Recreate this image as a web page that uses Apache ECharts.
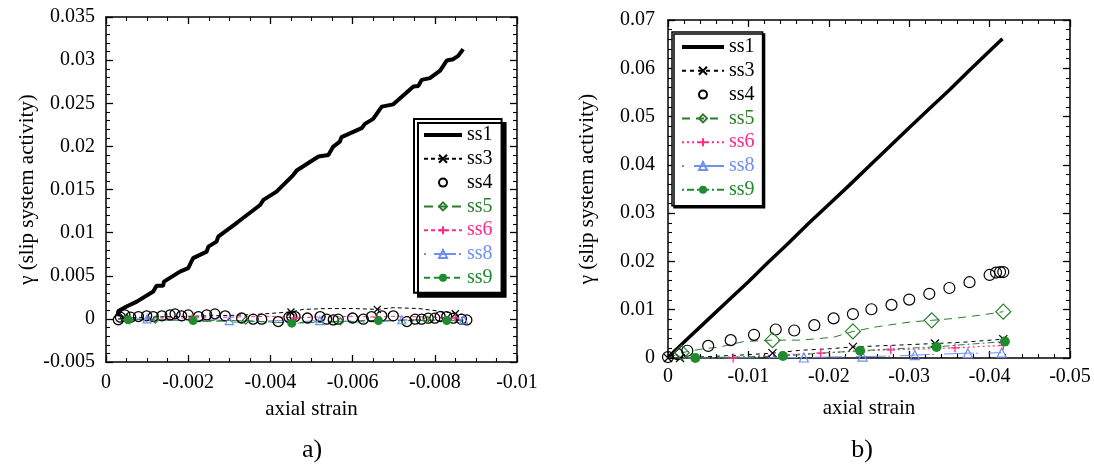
<!DOCTYPE html>
<html>
<head>
<meta charset="utf-8">
<script src="https://cdn.jsdelivr.net/npm/echarts@6/dist/echarts.min.js"></script>
<style>
  html, body { margin: 0; padding: 0; background: #fff; }
  #chart { width: 1094px; height: 466px; }
</style>
</head>
<body>
<div id="chart"></div>
<script>
// Slip system activity (gamma) against axial strain, two loading cases a) and b).
// Each curve: "path" points are drawn as line only, "marks" points carry a symbol.

// ---------- panel a) ----------
const aTicksX = { min: -0.01, interval: 0.002 };
const aTicksY = { min: -0.005, max: 0.035, interval: 0.005 };

const a_ss1 = [[-0.00028,0.0003],[-0.0003,0.0009],[-0.0005,0.00143],[-0.00075,0.0020],[-0.00115,0.00317],
  [-0.00123,0.00383],[-0.00139,0.00383],[-0.00141,0.00432],[-0.0018,0.00548],[-0.0020,0.00588],
  [-0.00212,0.00704],[-0.00245,0.0078],[-0.00249,0.00838],[-0.00269,0.00896],[-0.00273,0.00954],
  [-0.0032,0.0112],[-0.00375,0.0132],[-0.00383,0.0138],[-0.00415,0.01476],[-0.00456,0.0167],
  [-0.00464,0.0172],[-0.00517,0.01882],[-0.00541,0.01901],[-0.00553,0.01998],[-0.00569,0.02056],
  [-0.00573,0.02107],[-0.00622,0.02211],[-0.0063,0.02261],[-0.0065,0.02319],[-0.00671,0.02461],
  [-0.00699,0.02487],[-0.00748,0.02693],[-0.0076,0.02701],[-0.00768,0.02771],[-0.00788,0.02791],
  [-0.00813,0.02879],[-0.00829,0.02995],[-0.00845,0.03011],[-0.00857,0.03049],[-0.00869,0.03127]];

const a_ss3_path = [[-0.0003,0],[-0.001,0.0002],[-0.002,0.0003],[-0.003,0.0004],[-0.0036,0.0005],[-0.0042,0.0007],
  [-0.0048,0.0011],[-0.0054,0.0012],[-0.006,0.0012],[-0.007,0.0013],[-0.0076,0.0012],[-0.0081,0.0009],[-0.0087,0.0005]];
const a_ss3_marks = [[-0.00045,0.0001],[-0.0045,0.0008],[-0.0066,0.0011],[-0.0085,0.0006]];

const a_ss4_marks = [[-0.0003,-0.0001],[-0.00035,0.0002],[-0.00046,0.00046],[-0.0006,0.0002],[-0.00079,0.00027],
  [-0.00099,0.00035],[-0.00115,0.00027],[-0.00136,0.00035],[-0.00156,0.00046],[-0.00168,0.00058],
  [-0.00184,0.00035],[-0.0020,0.00046],[-0.00225,0.00027],[-0.00245,0.00046],[-0.00265,0.00058],
  [-0.0029,0.00035],[-0.0033,0.0001],[-0.00358,-0.00003],[-0.00379,-0.00003],[-0.00419,-0.00031],
  [-0.00445,0.0002],[-0.00452,0.00027],[-0.0046,0.00027],[-0.0049,0.0001],[-0.00521,0.00027],
  [-0.00537,-0.00003],[-0.00553,-0.00012],[-0.00565,-0.00003],[-0.0060,0.0001],[-0.00626,-0.00003],
  [-0.00646,0.00027],[-0.00671,0.00035],[-0.00699,0.00035],[-0.00732,-0.00031],[-0.00752,-0.00003],
  [-0.00768,-0.00003],[-0.00784,0.00008],[-0.008,0.00008],[-0.00813,0.00027],[-0.00829,0.00027],
  [-0.00845,0.00008],[-0.00865,-0.00003],[-0.00878,-0.00012]];

const a_ss5_path = [[-0.0003,0],[-0.001,-0.0001],[-0.0018,-0.0002],[-0.0025,-0.0003],[-0.0032,-0.0002],[-0.004,-0.0004],
  [-0.0047,-0.0004],[-0.0055,-0.0003],[-0.0062,-0.0002],[-0.0068,-0.0002],[-0.0075,-0.0001],[-0.0082,-0.0002],[-0.0087,-0.0001]];
const a_ss5_marks = [[-0.0012,-0.0001],[-0.0034,-0.0002],[-0.0057,-0.0003],[-0.0078,-0.0001]];

const a_ss6_path = [[-0.0003,0],[-0.0012,0.0001],[-0.003,0.0002],[-0.004,0.0003],[-0.005,0.0002],[-0.006,0.0003],
  [-0.007,0.0003],[-0.008,0.0002],[-0.0087,0.0002]];
const a_ss6_marks = [[-0.0005,-0.0001],[-0.0021,0.0001],[-0.0046,0.0001],[-0.0066,0.0002],[-0.0085,0.0001]];

const a_ss8_path = [[-0.0003,0],[-0.0012,-0.0001],[-0.002,-0.0002],[-0.0026,-0.0001],[-0.0031,-0.0004],[-0.0036,-0.0003],
  [-0.0042,-0.0002],[-0.0048,-0.0003],[-0.0055,-0.0002],[-0.0062,-0.0004],[-0.0068,-0.0003],[-0.0074,-0.0002],[-0.0081,-0.0002]];
const a_ss8_marks = [[-0.001,0],[-0.003,-0.0002],[-0.0052,-0.0002],[-0.0072,-0.0001],[-0.0087,-0.0001]];

const a_ss9_path = [[-0.0003,0],[-0.0012,-0.0001],[-0.003,-0.0002],[-0.0038,-0.0003],[-0.0053,-0.0004],[-0.006,-0.0003],
  [-0.0074,-0.0002],[-0.0087,-0.0002]];
const a_ss9_marks = [[-0.00054,-0.0001],[-0.00212,-0.0002],[-0.00452,-0.0005],[-0.00663,-0.0002],[-0.00829,-0.0002]];

// ---------- panel b) ----------
const bTicksX = { min: -0.05, interval: 0.01 };
const bTicksY = { min: 0, max: 0.07, interval: 0.01 };

const b_ss1 = [[0,0],[-0.0004,0.0007],[-0.002,0.0033],[-0.005,0.0080],[-0.0075,0.0119],[-0.01,0.0158],
  [-0.0125,0.0199],[-0.015,0.0238],[-0.0175,0.0279],[-0.02,0.0318],[-0.0225,0.0357],[-0.025,0.0397],
  [-0.0275,0.0437],[-0.03,0.0477],[-0.0325,0.0516],[-0.035,0.0555],[-0.0375,0.0596],[-0.04,0.0636],
  [-0.0412,0.0655],[-0.0416,0.0661]];

const b_ss3_path = [[-0.005,0.0003],[-0.009,0.0006],[-0.0165,0.0016],[-0.02,0.0019],[-0.026,0.0025],[-0.029,0.0027],[-0.037,0.0033]];
const b_ss3_marks = [[0,0],[-0.0015,0],[-0.013,0.001],[-0.023,0.0023],[-0.0332,0.003],[-0.0417,0.0039]];

const b_ss4_marks = [[0,0.0002],[-0.0012,0.0008],[-0.0024,0.0015],[-0.005,0.0025],[-0.0078,0.0037],[-0.0107,0.0048],
  [-0.0134,0.0059],[-0.0157,0.0057],[-0.0182,0.0068],[-0.0206,0.0082],[-0.023,0.0091],[-0.0253,0.0101],
  [-0.0278,0.011],[-0.030,0.0121],[-0.0325,0.0133],[-0.035,0.0145],[-0.0375,0.0157],[-0.040,0.0172],
  [-0.0408,0.0177],[-0.0413,0.0178],[-0.0417,0.0178]];

const b_ss5_path = [[0,0],[-0.004,0.0018],[-0.0065,0.0023],[-0.0094,0.0034],[-0.0165,0.0037],[-0.0206,0.0043],
  [-0.0261,0.0065],[-0.0303,0.0075],[-0.0356,0.0082],[-0.039,0.0089]];
const b_ss5_marks = [[-0.0017,0.0011],[-0.013,0.0037],[-0.023,0.0055],[-0.0328,0.0078],[-0.0417,0.0096]];

const b_ss6_path = [[0,0],[-0.004,0],[-0.012,0.0005],[-0.023,0.0014],[-0.032,0.0019],[-0.039,0.0024]];
const b_ss6_marks = [[-0.0081,0],[-0.019,0.001],[-0.0277,0.0017],[-0.0357,0.0021],[-0.0417,0.0026]];

const b_ss8_path = [[0,0],[-0.008,0],[-0.013,0.0001],[-0.02,0.0002],[-0.028,0.0004],[-0.034,0.0008],[-0.039,0.001]];
const b_ss8_marks = [[-0.0169,0.0001],[-0.0242,0.0003],[-0.0307,0.0006],[-0.0373,0.001],[-0.0415,0.0011]];

const b_ss9_path = [[0,0],[-0.008,0.0002],[-0.019,0.001],[-0.028,0.0019],[-0.037,0.0028]];
const b_ss9_marks = [[-0.0034,0],[-0.0143,0.0004],[-0.0239,0.0015],[-0.0334,0.0023],[-0.0419,0.0034]];

const seriesNames = ['ss1', 'ss3', 'ss4', 'ss5', 'ss6', 'ss8', 'ss9'];
const xTitle = 'axial strain';
const yTitle = 'γ (slip system activity)';
const panelTitles = ['a)', 'b)'];

// ---------- styling ----------
const FONT = "'Liberation Serif','Times New Roman',serif";
const BLACK = '#000';
const GREEN5 = '#2b7d2b';
const PINK = '#ff2a8c';
const BLUE = '#6f8ff2';
const GREEN9 = '#1f8a2e';
const SYM_X = 'path://M0,0L10,10M10,0L0,10';
const SYM_PLUS = 'path://M5,0L5,10M0,5L10,5';

// Line and marker points merged into one curve, ordered along the strain axis
function curve(path, marks) {
  const items = path.map(p => ({ value: p, symbol: 'none' }))
    .concat(marks.map(p => ({ value: p })));
  return items.sort((a, b) => b.value[0] - a.value[0]);
}

function mk(prefix, name, data, gi, o) {
  return Object.assign({
    name: prefix + name,
    type: 'line',
    xAxisIndex: gi * 2,
    yAxisIndex: gi * 2,
    data: data,
    animation: false,
    silent: true,
    smooth: false,
    showSymbol: true,
    showAllSymbol: true,
    clip: true
  }, o);
}

function hollow(color, w) {
  return { color: 'none', borderColor: color, borderWidth: w || 1.2 };
}

const series = [
  // panel a)
  mk('a/', 'ss4', a_ss4_marks, 0, { symbol: 'circle', symbolSize: 10, itemStyle: hollow(BLACK, 1.3), lineStyle: { width: 0, opacity: 0 } }),
  mk('a/', 'ss3', curve(a_ss3_path, a_ss3_marks), 0, { symbol: SYM_X, symbolSize: 7, itemStyle: hollow(BLACK, 1.3), lineStyle: { color: BLACK, width: 1, type: [4, 3] } }),
  mk('a/', 'ss5', curve(a_ss5_path, a_ss5_marks), 0, { symbol: 'diamond', symbolSize: 7, itemStyle: hollow(GREEN5, 1.2), lineStyle: { color: GREEN5, width: 1, type: [9, 5] } }),
  mk('a/', 'ss6', curve(a_ss6_path, a_ss6_marks), 0, { symbol: SYM_PLUS, symbolSize: 8, itemStyle: hollow(PINK, 1.3), lineStyle: { color: PINK, width: 1, type: [4, 3] } }),
  mk('a/', 'ss8', curve(a_ss8_path, a_ss8_marks), 0, { symbol: 'triangle', symbolSize: 8, itemStyle: hollow(BLUE, 1.2), lineStyle: { color: BLUE, width: 1, type: [2, 8, 22, 3] } }),
  mk('a/', 'ss9', curve(a_ss9_path, a_ss9_marks), 0, { symbol: 'circle', symbolSize: 9, itemStyle: { color: GREEN9, borderWidth: 0 }, lineStyle: { color: GREEN9, width: 1, type: [6, 4] } }),
  mk('a/', 'ss1', a_ss1, 0, { symbol: 'circle', showSymbol: false, symbolSize: 0, itemStyle: { color: BLACK }, lineStyle: { color: BLACK, width: 4 } }),
  // panel b)
  mk('b/', 'ss1', b_ss1, 1, { symbol: 'circle', showSymbol: false, symbolSize: 0, itemStyle: { color: BLACK }, lineStyle: { color: BLACK, width: 3.5 } }),
  mk('b/', 'ss3', curve(b_ss3_path, b_ss3_marks), 1, { symbol: SYM_X, symbolSize: 8, itemStyle: hollow(BLACK, 1.2), lineStyle: { color: BLACK, width: 1, type: [4, 4] } }),
  mk('b/', 'ss4', b_ss4_marks, 1, { symbol: 'circle', symbolSize: 11, itemStyle: hollow(BLACK, 1.2), lineStyle: { width: 0, opacity: 0 } }),
  mk('b/', 'ss5', curve(b_ss5_path, b_ss5_marks), 1, { symbol: 'diamond', symbolSize: 15, itemStyle: hollow(GREEN5, 1.2), lineStyle: { color: GREEN5, width: 1, type: [8, 6] } }),
  mk('b/', 'ss6', curve(b_ss6_path, b_ss6_marks), 1, { symbol: SYM_PLUS, symbolSize: 9, itemStyle: hollow(PINK, 1.3), lineStyle: { color: PINK, width: 1.2, type: [2, 3] } }),
  mk('b/', 'ss8', curve(b_ss8_path, b_ss8_marks), 1, { symbol: 'triangle', symbolSize: 9, itemStyle: hollow(BLUE, 1.2), lineStyle: { color: BLUE, width: 1, type: [2, 10, 30, 2] } }),
  mk('b/', 'ss9', curve(b_ss9_path, b_ss9_marks), 1, { symbol: 'circle', symbolSize: 10, itemStyle: { color: GREEN9, borderWidth: 0 }, lineStyle: { color: GREEN9, width: 1, type: [2, 3, 7, 3] } })
];

const textColors = { ss1: BLACK, ss3: BLACK, ss4: BLACK, ss5: GREEN5, ss6: PINK, ss8: BLUE, ss9: GREEN9 };

function legendData(prefix, ss1Width) {
  return seriesNames.map(n => {
    const item = { name: prefix + n, textStyle: { color: textColors[n] } };
    if (n === 'ss1') {
      item.itemStyle = { opacity: 0 };
      item.lineStyle = { width: ss1Width, color: BLACK };
    }
    return item;
  });
}

function legend(prefix, left, top, itemWidth, pad, shadow, border, ss1Width) {
  return {
    data: legendData(prefix, ss1Width),
    orient: 'vertical',
    left: left,
    top: top,
    padding: pad,
    itemWidth: itemWidth,
    itemHeight: 10,
    itemGap: 3.8,
    selectedMode: false,
    backgroundColor: '#fff',
    borderColor: BLACK,
    borderWidth: border,
    borderRadius: 0,
    shadowColor: BLACK,
    shadowBlur: 0,
    shadowOffsetX: shadow,
    shadowOffsetY: shadow,
    formatter: name => name.slice(2),
    textStyle: { fontFamily: FONT, fontSize: 20, lineHeight: 20, color: BLACK }
  };
}

function axisPair(kind, gi, ticks, minorSplit, opts) {
  const base = {
    type: 'value',
    gridIndex: gi,
    min: ticks.min,
    max: ticks.max !== undefined ? ticks.max : 0,
    interval: ticks.interval,
    inverse: kind === 'x',
    axisLine: { show: true, onZero: false, lineStyle: { color: BLACK, width: 1.5 } },
    axisTick: { show: true, inside: true, length: 7, lineStyle: { color: BLACK, width: 1.3 } },
    minorTick: { show: true, splitNumber: minorSplit, length: 4, lineStyle: { color: BLACK, width: 1.1 } },
    splitLine: { show: false },
    minorSplitLine: { show: false }
  };
  const main = Object.assign({}, base, {
    position: kind === 'x' ? 'bottom' : 'left',
    axisLabel: { show: true, color: BLACK, fontFamily: FONT, fontSize: 20, margin: opts.margin },
    name: kind === 'x' ? xTitle : yTitle,
    nameLocation: 'middle',
    nameGap: opts.nameGap,
    nameTextStyle: { color: BLACK, fontFamily: FONT, fontSize: 21 }
  });
  const mirror = Object.assign({}, base, {
    position: kind === 'x' ? 'top' : 'right',
    axisLabel: { show: false }
  });
  return [main, mirror];
}

const option = {
  backgroundColor: '#fff',
  animation: false,
  grid: [
    { left: 106, top: 17, width: 411, height: 345, outerBoundsMode: 'none', containLabel: false },
    { left: 668, top: 20, width: 402, height: 338, outerBoundsMode: 'none', containLabel: false }
  ],
  xAxis: [].concat(
    axisPair('x', 0, aTicksX, 4, { margin: 11, nameGap: 37 }),
    axisPair('x', 1, bTicksX, 5, { margin: 9, nameGap: 40 })
  ),
  yAxis: [].concat(
    axisPair('y', 0, aTicksY, 5, { margin: 11, nameGap: 68 }),
    axisPair('y', 1, bTicksY, 5, { margin: 13, nameGap: 70 })
  ),
  legend: [
    legend('a/', 414, 119, 38, [6, 9, 5, 8], 4, 2, 4),
    legend('b/', 672, 32, 42, [5, 8, 6, 8], 2, 1.5, 4)
  ],
  graphic: [
    { type: 'text', x: 312, y: 450, style: { text: panelTitles[0], fill: BLACK, font: '26px ' + FONT, textAlign: 'center', textVerticalAlign: 'middle' } },
    { type: 'text', x: 862, y: 450, style: { text: panelTitles[1], fill: BLACK, font: '26px ' + FONT, textAlign: 'center', textVerticalAlign: 'middle' } }
  ],
  series: series
};

const chart = echarts.init(document.getElementById('chart'), null, { renderer: 'canvas' });
chart.setOption(option);
</script>
</body>
</html>
